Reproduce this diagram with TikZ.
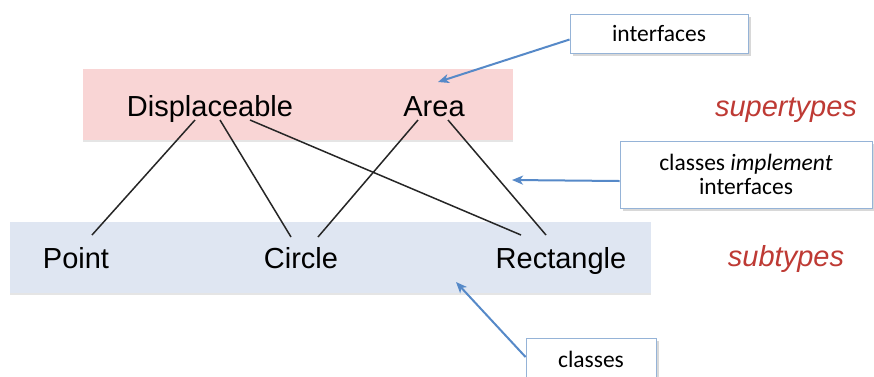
\documentclass[tikz,border=0pt]{standalone}
\usepackage{fontspec}
\setmainfont{Liberation Sans}
\newfontfamily\callfont{Carlito}
\usetikzlibrary{arrows.meta,shadows}
\definecolor{pinkbg}{RGB}{249,213,213}
\definecolor{bluebg}{RGB}{223,230,242}
\definecolor{typered}{RGB}{190,58,52}
\definecolor{calloutborder}{RGB}{149,179,215}
\definecolor{arrowblue}{RGB}{86,137,200}
\tikzset{
  band/.style={draw=none, drop shadow={shadow xshift=0pt, shadow yshift=-2pt, opacity=0.2}},
  typename/.style={anchor=base, inner sep=0pt, font=\fontsize{29}{32}\selectfont},
  kind/.style={anchor=base, inner sep=0pt, text=typered, font=\fontsize{29}{32}\selectfont\itshape},
  callout/.style={draw=calloutborder, line width=0.9pt, fill=white, inner sep=0pt,
    font=\callfont\fontsize{23.5}{26}\selectfont,
    drop shadow={shadow xshift=2.5pt, shadow yshift=-2.5pt, opacity=0.3}},
  link/.style={line width=1.5pt, black!85},
  pointer/.style={line width=2pt, arrowblue, -{Stealth[length=11pt,width=9pt,inset=3pt]}}
}
\begin{document}
\begin{tikzpicture}[x=1pt,y=-1pt]
\clip (0,0) rectangle (874,376);
\fill[white] (0,0) rectangle (874,376);
% bands
\fill[pinkbg, band] (83,69) rectangle (513,140);
\fill[bluebg, band] (10,222) rectangle (651,293);
% type names
\node[typename] (disp) at (210,116) {Displaceable};
\node[typename] (area) at (434,116) {Area};
\node[typename] (point) at (76,268) {Point};
\node[typename] (circle) at (301,268) {Circle};
\node[typename] (rect) at (561,268) {Rectangle};
\node[kind] (super) at (786,116) {supertypes};
\node[kind] (sub) at (786,266) {subtypes};
% links
\draw[link] ([xshift=-15pt,yshift=-4pt]disp.base) -- ([xshift=16pt,yshift=33pt]point.base);
\draw[link] ([xshift=10pt,yshift=-4pt]disp.base) -- ([xshift=-10pt,yshift=31pt]circle.base);
\draw[link] ([xshift=40pt,yshift=-4pt]disp.base) -- ([xshift=-40pt,yshift=33pt]rect.base);
\draw[link] ([xshift=-16pt,yshift=-4pt]area.base) -- ([xshift=17pt,yshift=31pt]circle.base);
\draw[link] ([xshift=14pt,yshift=-4pt]area.base) -- ([xshift=-15pt,yshift=33pt]rect.base);
% callouts
\node[callout, minimum width=178pt, minimum height=39pt] (iface) at (659,33.5) {interfaces};
\node[callout, minimum width=252pt, minimum height=67pt, align=center] (impl) at (746,174.5)
  {classes \textit{implement}\\[-2pt]interfaces};
\node[callout, minimum width=130pt, minimum height=42pt] (cls) at (591,359) {classes};
\coordinate (tipiface) at (438,82);
\coordinate (tipimpl) at (512,180);
\coordinate (tipcls) at (456,282);
\draw[pointer] ([yshift=-6pt]iface.west) -- (tipiface);
\draw[pointer] ([yshift=-6.5pt]impl.west) -- (tipimpl);
\draw[pointer] ([yshift=2pt]cls.west) -- (tipcls);
\end{tikzpicture}
\end{document}
